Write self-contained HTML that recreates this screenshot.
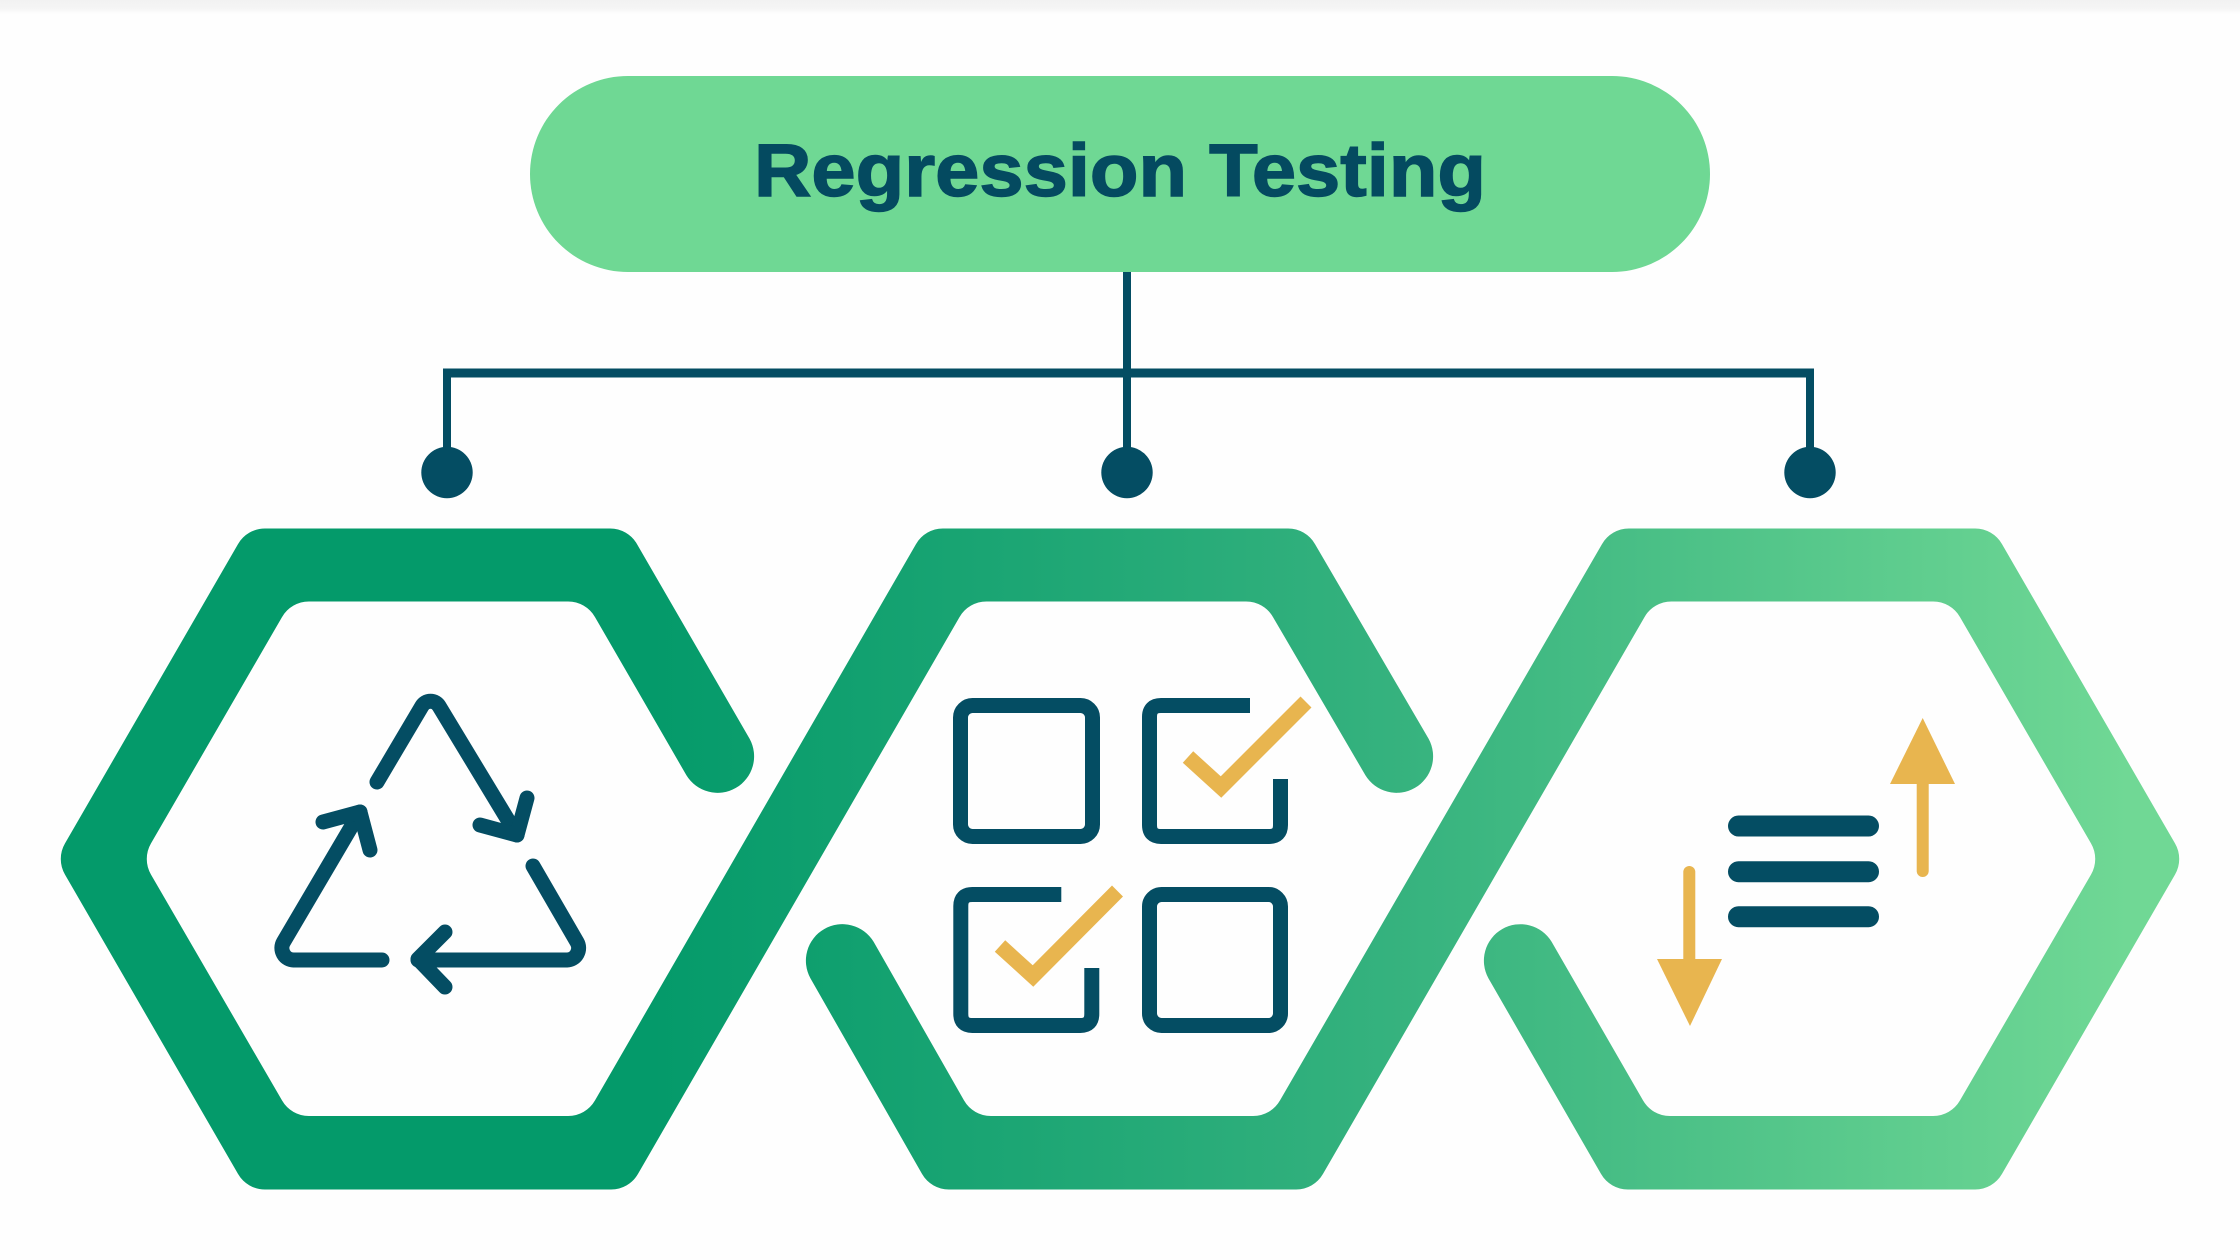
<!DOCTYPE html>
<html><head><meta charset="utf-8"><title>Regression Testing</title>
<style>html,body{margin:0;padding:0;background:#fefefe}svg{display:block}</style></head>
<body>
<svg xmlns="http://www.w3.org/2000/svg" width="2240" height="1260" viewBox="0 0 2240 1260">
<defs>
<linearGradient id="g" gradientUnits="userSpaceOnUse" x1="650" y1="0" x2="2130" y2="0">
<stop offset="0" stop-color="#049a6a"/><stop offset="0.5" stop-color="#35b27e"/><stop offset="1" stop-color="#70d895"/>
</linearGradient>
<linearGradient id="t" x1="0" y1="0" x2="0" y2="1"><stop offset="0" stop-color="#f2f2f2"/><stop offset="0.6" stop-color="#f5f5f5"/><stop offset="1" stop-color="#fefefe"/></linearGradient>
</defs>
<rect width="2240" height="1260" fill="#fefefe"/>
<rect width="2240" height="14" fill="url(#t)"/>

<rect x="530" y="76" width="1180" height="196" rx="98" fill="#6fd894"/>
<text x="754" y="196" font-family="'Liberation Sans',sans-serif" font-weight="700" font-size="74" fill="#044a60" stroke="#044a60" stroke-width="1.4" textLength="732" lengthAdjust="spacingAndGlyphs">Regression Testing</text>

<g fill="none" stroke="#044d63">
<path d="M1127 272V472" stroke-width="8"/>
<path d="M443 373H1814" stroke-width="9"/>
<path d="M447 373V472M1810 373V472" stroke-width="8"/>
</g>
<g fill="#044d63"><circle cx="447" cy="472.5" r="25.7"/><circle cx="1127" cy="472.5" r="25.7"/><circle cx="1810" cy="472.5" r="25.7"/></g>

<path fill="url(#g)" d="M749.6 738.75L637 544.1A31 31 0 0 0 610 528.5L265 528.5A31 31 0 0 0 238 544.1L65 843.4A31 31 0 0 0 65 874.6L238 1173.9A31 31 0 0 0 265 1189.5L611 1189.5A31 31 0 0 0 638 1173.9L959.5 617.1A31 31 0 0 1 986.5 601.5L1246 601.5A31 31 0 0 1 1273 617.1L1365.4 775.25A36.5 36.5 0 0 0 1428.6 738.75L1315 544.1A31 31 0 0 0 1288 528.5L943 528.5A31 31 0 0 0 916 544.1L595 1100.4A31 31 0 0 1 568 1116L309 1116A31 31 0 0 1 282 1100.4L151 874.6A31 31 0 0 1 151 843.4L282 617.1A31 31 0 0 1 309 601.5L568 601.5A31 31 0 0 1 595 617.1L686.4 775.25A36.5 36.5 0 0 0 749.6 738.75Z"/>
<path fill="url(#g)" d="M810.4 978.25L922 1173.9A31 31 0 0 0 949 1189.5L1296 1189.5A31 31 0 0 0 1323 1173.9L1644.5 617.1A31 31 0 0 1 1671.5 601.5L1933 601.5A31 31 0 0 1 1960 617.1L2091 843.4A31 31 0 0 1 2091 874.6L1960 1100.4A31 31 0 0 1 1933 1116L1670 1116A31 31 0 0 1 1643 1100.4L1551.6 941.75A36.5 36.5 0 0 0 1488.4 978.25L1601 1173.9A31 31 0 0 0 1628 1189.5L1975 1189.5A31 31 0 0 0 2002 1173.9L2175 874.6A31 31 0 0 0 2175 843.4L2002 544.1A31 31 0 0 0 1975 528.5L1629 528.5A31 31 0 0 0 1602 544.1L1280 1100.4A31 31 0 0 1 1253 1116L991 1116A31 31 0 0 1 964 1100.4L873.6 941.75A36.5 36.5 0 0 0 810.4 978.25Z"/>

<!-- recycle -->
<g fill="none" stroke="#044d63" stroke-width="15" stroke-linecap="round" stroke-linejoin="round">
<path d="M377 782L422 706A10 10 0 0 1 439 706L517 835"/>
<path d="M480 825L517 835L527 798"/>
<path d="M533 866L577 942A12 12 0 0 1 567 960L418 960"/>
<path d="M445 932L418 959L445 987"/>
<path d="M382 960L293.5 960A12 12 0 0 1 283.5 942L360 812"/>
<path d="M323 822L360 812L370 850"/>
</g>

<!-- checkboxes -->
<g fill="none" stroke="#044d63" stroke-width="15">
<rect x="960.5" y="705.5" width="132" height="131" rx="12"/>
<rect x="1149.5" y="894.5" width="131" height="131" rx="12"/>
<path d="M1250 705.5H1161Q1149.5 705.5 1149.5 717V825Q1149.5 836.5 1161 836.5H1269Q1280.5 836.5 1280.5 825V779"/>
<path d="M1061.3 894.5H972.3Q960.8 894.5 960.8 906V1014Q960.8 1025.5 972.3 1025.5H1080.3Q1091.8 1025.5 1091.8 1014V968"/>
</g>
<g fill="none" stroke="#e8b54f" stroke-width="15.5">
<path d="M1188 757L1221 787L1306 702"/>
<path d="M1000 946L1033 976L1117.5 891"/>
</g>

<!-- list with arrows -->
<g stroke="#044d63" stroke-width="21" stroke-linecap="round">
<path d="M1738.5 826H1868.5M1738.5 871.7H1868.5M1738.5 916.7H1868.5"/>
</g>
<g stroke="#e8b54f" stroke-width="12" stroke-linecap="round">
<path d="M1922.7 780V871"/><path d="M1689.3 872V962"/>
</g>
<g fill="#e8b54f">
<path d="M1922.7 718L1955 784H1890Z"/>
<path d="M1657 959H1722L1690 1026Z"/>
</g>
</svg>
</body></html>
